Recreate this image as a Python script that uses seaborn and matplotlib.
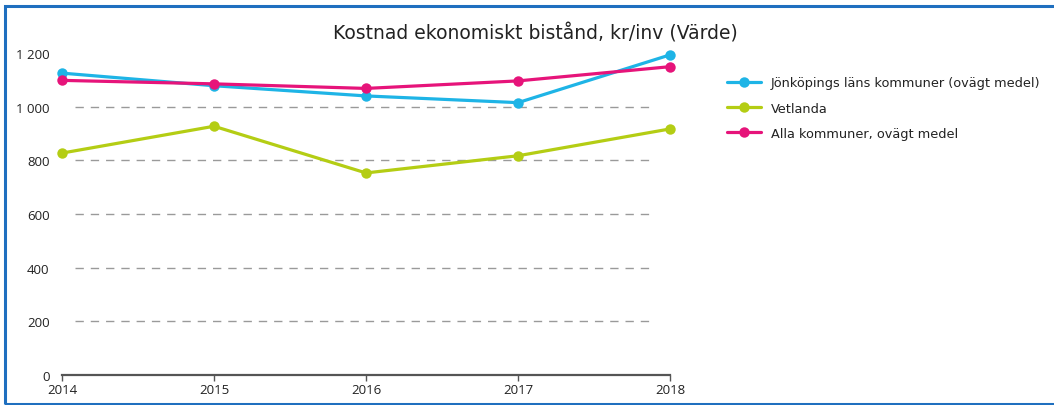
import matplotlib
matplotlib.use("Agg")
import matplotlib.pyplot as plt
import matplotlib.ticker as mticker
from matplotlib.patches import Rectangle
import pandas as pd
import seaborn as sns

# data
years = [2014, 2015, 2016, 2017, 2018]
jonkoping = [1125, 1078, 1040, 1015, 1193]
vetlanda = [827, 927, 753, 817, 917]
alla = [1098, 1085, 1068, 1096, 1149]
series_names = ["Jönköpings läns kommuner (ovägt medel)", "Vetlanda", "Alla kommuner, ovägt medel"]
colors = ["#1eb4e6", "#b4cd14", "#e6147a"]
grid_levels = [200, 400, 600, 800, 1000]

df = pd.DataFrame({
    "year": years * 3,
    "value": jonkoping + vetlanda + alla,
    "series": [series_names[0]] * 5 + [series_names[1]] * 5 + [series_names[2]] * 5,
})

sns.set_style("white")
plt.rcParams["font.family"] = ["DejaVu Sans"]

fig = plt.figure(figsize=(10.54, 4.06), dpi=100)
ax = fig.add_axes([0.0588, 0.0739, 0.5769, 0.7931])

# outer blue frame (open on the right side)
fig.patches.append(Rectangle((0.0052, 0.003), 1.2, 0.98, transform=fig.transFigure,
                             fill=False, edgecolor="#1f6fbf", linewidth=2.2))

for lvl in grid_levels:
    ax.axhline(lvl, xmin=0.021, xmax=0.969, color="#9a9a9a", linewidth=1.0,
               dashes=(6, 5), zorder=0)

sns.lineplot(data=df, x="year", y="value", hue="series", palette=colors,
             marker="o", markersize=7.5, markeredgewidth=0, linewidth=2.3,
             ax=ax, clip_on=False, zorder=3)

ax.set_xlim(2014, 2018)
ax.set_ylim(0, 1200)
ax.set_xticks(years)
ax.set_yticks([0, 200, 400, 600, 800, 1000, 1200])
ax.yaxis.set_major_formatter(mticker.FuncFormatter(lambda v, p: f"{v:,.0f}".replace(",", " ")))
ax.set_xlabel("")
ax.set_ylabel("")

for side in ["top", "right", "left"]:
    ax.spines[side].set_visible(False)
ax.spines["bottom"].set_color("#555555")
ax.spines["bottom"].set_linewidth(1.6)
ax.tick_params(axis="x", bottom=True, direction="out", length=4, width=1, color="#555555",
               pad=2, labelsize=9.5, labelcolor="#222222")
ax.tick_params(axis="y", left=False, length=0, pad=9, labelsize=9.5, labelcolor="#222222")
for lab in ax.get_xticklabels() + ax.get_yticklabels():
    lab.set_fontfamily("Open Sans")

fig.text(0.508, 0.918, "Kostnad ekonomiskt bistånd, kr/inv (Värde)", ha="center",
         va="center", fontsize=13.5, color="#222222", family="DejaVu Sans")

leg = ax.legend(loc="upper left", bbox_to_anchor=(0.685, 0.822), bbox_transform=fig.transFigure,
                frameon=False, prop={"family": "DejaVu Sans", "size": 9.3},
                handlelength=2.6, labelspacing=0.95, handletextpad=0.8, borderaxespad=0)
for txt in leg.get_texts():
    txt.set_color("#222222")

fig.savefig("out.png", dpi=100)
